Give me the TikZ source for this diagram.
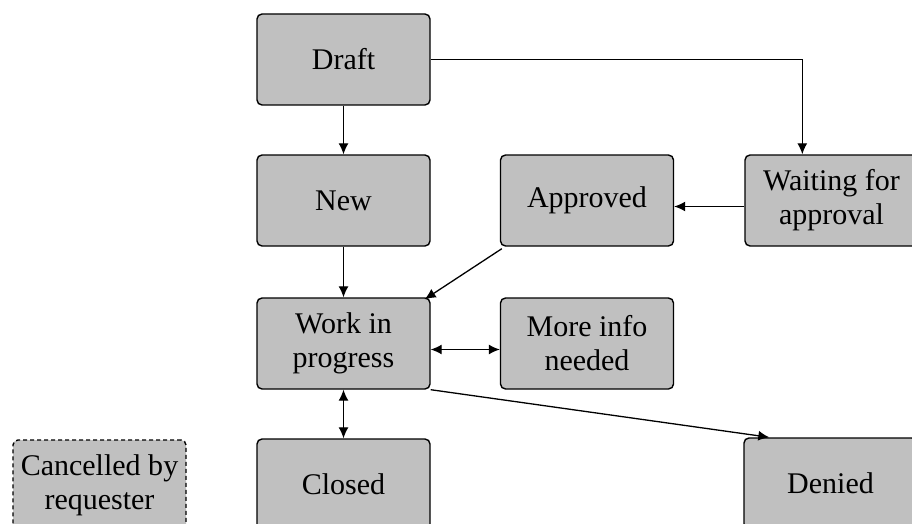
\documentclass[tikz,border=0pt]{standalone}
\usepackage{fontspec}
\setmainfont{Liberation Serif}
\usetikzlibrary{arrows.meta,calc}

\definecolor{statefill}{HTML}{C0C0C0}

\tikzset{
  state/.style={draw=black, fill=statefill, line width=1.4pt, rounded corners=5pt,
    minimum width=173pt, minimum height=91pt, inner sep=0pt, align=center,
    font=\fontsize{30}{34}\selectfont},
  optstate/.style={state, dashed, dash pattern=on 4pt off 3pt},
  link/.style={line width=1.3pt, -{Latex[length=11pt,width=10pt]}},
  duallink/.style={line width=1.3pt, {Latex[length=11pt,width=10pt]}-{Latex[length=11pt,width=10pt]}}
}

\begin{document}
\begin{tikzpicture}[x=1pt,y=-1pt]
  \useasboundingbox (0,0) rectangle (912,524);
  \begin{scope}
    \clip (0,0) rectangle (912,524);

    % workflow states
    \node[state] (draft)    at (343.5, 59.5)  {Draft};
    \node[state] (new)      at (343.5, 200.5) {New};
    \node[state] (approved) at (587,   200.5) {Approved};
    \node[state] (waiting)  at (831.5, 200.5) {Waiting for\\approval};
    \node[state] (wip)      at (343.5, 343.5) {Work in\\progress};
    \node[state] (info)     at (587,   343.5) {More info\\needed};
    \node[state] (closed)   at (343.5, 484.5) {Closed};
    \node[state] (denied)   at (830.5, 483.5) {Denied};
    \node[optstate] (cancel) at (99.5, 485.5) {Cancelled by\\requester};

    % transitions
    \draw[link] (draft.south) -- (new.north);
    \draw[link] (draft.east) -| ($(waiting.north west)+(58,0)$);
    \draw[link] ([yshift=-6pt]waiting.west) -- ([yshift=-6pt]approved.east);
    \draw[link] ([shift={(2pt,-2pt)}]approved.south west) -- ([shift={(-6pt,-2pt)}]wip.north east);
    \draw[link] (new.south) -- (wip.north);
    \draw[duallink] ([yshift=-6pt]wip.east) -- ([yshift=-6pt]info.west);
    \draw[duallink] (wip.south) -- (closed.north);
    \draw[link] (wip.south east) -- ($(denied.north west)+(26,0)$);
  \end{scope}
\end{tikzpicture}
\end{document}
